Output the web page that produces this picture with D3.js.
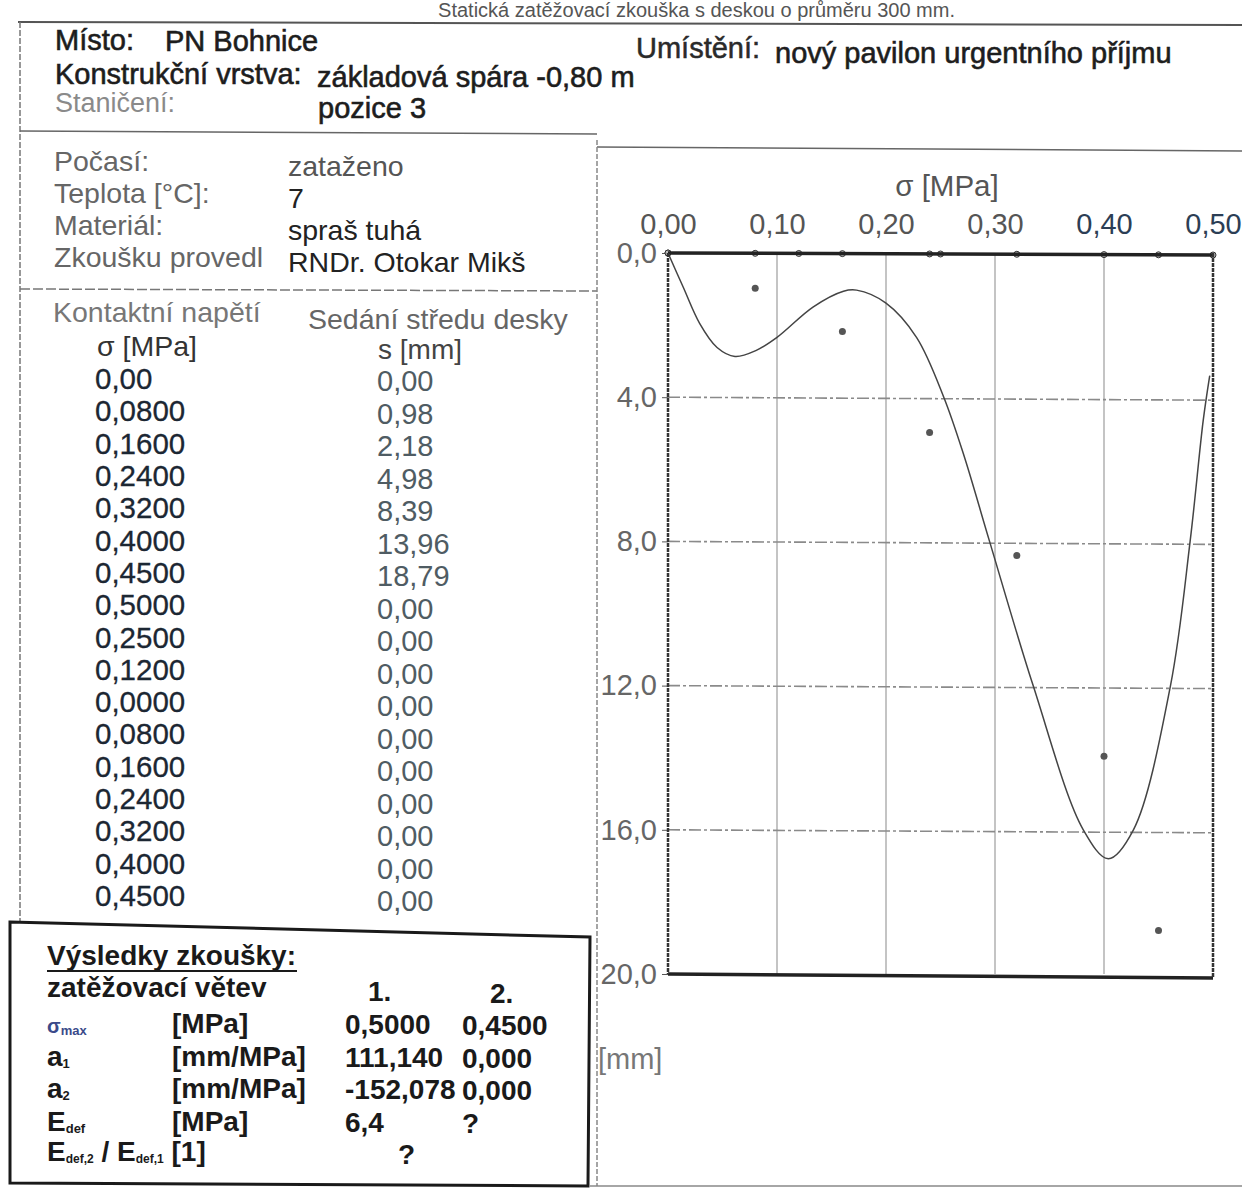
<!DOCTYPE html>
<html>
<head>
<meta charset="utf-8">
<script src="https://cdn.jsdelivr.net/npm/d3@7"></script>
<style>
  html, body { margin: 0; padding: 0; background: #fff; }
  svg { display: block; }
  text { font-family: "Liberation Sans", Arial, sans-serif; }
</style>
</head>
<body>
<svg id="page" width="1242" height="1188"></svg>
<script>
// ---------------- DATA ----------------
// Table: contact stress sigma [MPa] and plate-centre settlement s [mm]
const sigma  = [0.00, 0.08, 0.16, 0.24, 0.32, 0.40, 0.45, 0.50, 0.25, 0.12, 0.00, 0.08, 0.16, 0.24, 0.32, 0.40, 0.45];
const settle = [0.00, 0.98, 2.18, 4.98, 8.39, 13.96, 18.79, 0.00, 0.00, 0.00, 0.00, 0.00, 0.00, 0.00, 0.00, 0.00, 0.00];

// Fitted curve
const curveSigma = [0, 0.014, 0.029, 0.045, 0.0615, 0.081, 0.100, 0.133, 0.161, 0.173, 0.200, 0.228, 0.253, 0.271, 0.295, 0.335, 0.381, 0.404, 0.427, 0.461, 0.479, 0.491, 0.497];
const curveS     = [0, 0.95, 1.95, 2.62, 2.87, 2.70, 2.34, 1.50, 1.06, 1.03, 1.39, 2.34, 4.00, 5.57, 8.00, 12.00, 16.00, 16.80, 16.00, 12.00, 8.00, 4.65, 3.40];

// Axis ticks
const xTicks = [0, 0.1, 0.2, 0.3, 0.4, 0.5];
const yTicks = [0, 4, 8, 12, 16, 20];

// Header texts
const headerLabels = ["Místo:", "Konstrukční vrstva:", "Staničení:"];
const headerValues = ["PN Bohnice", "základová spára -0,80 m", "pozice 3"];
const placeLabel = "Umístění:";
const placeValue = "nový pavilon urgentního příjmu";
const docTitle = "Statická zatěžovací zkouška s deskou o průměru 300 mm.";

const condLabels = ["Počasí:", "Teplota [°C]:", "Materiál:", "Zkoušku provedl"];
const condValues = ["zataženo", "7", "spraš tuhá", "RNDr. Otokar Mikš"];

// Results
const resBranches = ["1.", "2."];
const resRows = [
  {sym: "σ", sub: "max", unit: "[MPa]", v1: "0,5000", v2: "0,4500"},
  {sym: "a", sub: "1", unit: "[mm/MPa]", v1: "111,140", v2: "0,000"},
  {sym: "a", sub: "2", unit: "[mm/MPa]", v1: "-152,078", v2: "0,000"},
  {sym: "E", sub: "def", unit: "[MPa]", v1: "6,4", v2: "?"}
];

// ---------------- DRAW ----------------
const svg = d3.select("#page");
const comma = s => s.replace(".", ",");

function txt(x, y, s, o = {}) {
  const t = svg.append("text")
    .attr("x", x).attr("y", y)
    .attr("font-size", o.size || 29)
    .attr("font-weight", o.weight || "normal")
    .attr("fill", o.fill || "#222")
    .attr("text-anchor", o.anchor || "start")
    .text(s);
  if (o.bold) t.attr("stroke", o.fill || "#222").attr("stroke-width", o.bold);
  return t;
}
function line(x1, y1, x2, y2, o = {}) {
  return svg.append("line")
    .attr("x1", x1).attr("y1", y1).attr("x2", x2).attr("y2", y2)
    .attr("stroke", o.stroke || "#555")
    .attr("stroke-width", o.w || 1.5)
    .attr("stroke-dasharray", o.dash || null);
}

// document title at the very top (mostly cut in the scan)
txt(955, 17, docTitle, {size: 20, fill: "#555", anchor: "end"});

// frame lines
line(18, 22, 1242, 25, {stroke: "#555", w: 2});
line(20, 22, 20, 922, {stroke: "#777", w: 1.5, dash: "6,2"});
line(20, 131, 597, 134, {stroke: "#666", w: 1.5});
line(597, 147, 1242, 151, {stroke: "#666", w: 1.5});
line(20, 289, 597, 291, {stroke: "#777", w: 1.5, dash: "10,3"});
line(597, 140, 597, 1186, {stroke: "#888", w: 1.5, dash: "5,2"});
line(590, 1186, 1242, 1186, {stroke: "#888", w: 1.5});

// header
txt(55, 50, headerLabels[0], {fill: "#1d1d1d", bold: 0.6});
txt(165, 51, headerValues[0], {fill: "#1d1d1d", bold: 0.6});
txt(55, 84, headerLabels[1], {fill: "#1d1d1d", bold: 0.6});
txt(317, 87, headerValues[1], {fill: "#1d1d1d", bold: 0.6});
txt(55, 112, headerLabels[2], {fill: "#8a8a8a", size: 27});
txt(318, 118, headerValues[2], {fill: "#1d1d1d", bold: 0.6});
txt(636, 58, placeLabel, {fill: "#2a2a2a", bold: 0.5});
txt(775, 63, placeValue, {fill: "#1d1d1d", bold: 0.6});

// conditions
condLabels.forEach((l, i) => {
  txt(54, 171 + i * 32, l, {fill: "#666", size: 28.5});
  txt(288, 176 + i * 32, condValues[i], {fill: i === 0 ? "#555" : "#222", size: 28.5});
});

// data table
txt(53, 322, "Kontaktní napětí", {fill: "#777", size: 28.5});
txt(308, 329, "Sedání středu desky", {fill: "#666", size: 28.5});
txt(97, 356, "σ [MPa]", {fill: "#333", size: 28.5});
txt(378, 359, "s [mm]", {fill: "#444", size: 28});
const rowY = d3.scaleLinear().domain([0, sigma.length - 1]).range([389, 906]);
sigma.forEach((v, i) => {
  const label = i === 0 ? comma(v.toFixed(2)) : comma(v.toFixed(4));
  txt(95, rowY(i), label, {fill: "#1c2733", size: 29.5, bold: 0.3});
  txt(377, rowY(i) + 2 + i * 0.2, comma(settle[i].toFixed(2)), {fill: "#4f5c63", size: 29});
});

// results box
svg.append("path")
  .attr("d", "M10,922 L590,937 L588,1186 L10,1183 Z")
  .attr("fill", "none").attr("stroke", "#1a1a1a").attr("stroke-width", 3);
const RS = 28;
txt(47, 965, "Výsledky zkoušky:", {weight: "bold", size: RS, fill: "#1a1a1a"});
line(47, 971, 297, 971, {stroke: "#1a1a1a", w: 2});
txt(47, 997, "zatěžovací větev", {weight: "bold", size: RS, fill: "#1a1a1a"});
txt(368, 1001, resBranches[0], {weight: "bold", size: RS, fill: "#1a1a1a"});
txt(490, 1003, resBranches[1], {weight: "bold", size: RS, fill: "#1a1a1a"});
resRows.forEach((r, i) => {
  const y = 1033 + i * 32.5;
  const t = svg.append("text").attr("x", 47).attr("y", y).attr("font-weight", "bold").attr("fill", r.sym === "σ" ? "#3a4a8a" : "#1a1a1a");
  t.append("tspan").attr("font-size", r.sym === "σ" ? 20 : RS).text(r.sym);
  t.append("tspan").attr("font-size", 13).attr("dy", 2).text(r.sub);
  txt(172, y, r.unit, {weight: "bold", size: RS, fill: "#1a1a1a"});
  txt(345, y + 1, r.v1, {weight: "bold", size: RS, fill: "#1a1a1a"});
  txt(462, y + 2, r.v2, {weight: "bold", size: RS, fill: "#1a1a1a"});
});
{
  const y = 1161;
  const t = svg.append("text").attr("x", 47).attr("y", y).attr("font-weight", "bold").attr("fill", "#1a1a1a");
  t.append("tspan").attr("font-size", RS).text("E");
  t.append("tspan").attr("font-size", 12).attr("dy", 2).text("def,2");
  t.append("tspan").attr("font-size", RS).attr("dy", -2).text(" / E");
  t.append("tspan").attr("font-size", 12).attr("dy", 2).text("def,1");
  t.append("tspan").attr("font-size", RS).attr("dy", -2).text(" [1]");
  txt(398, y + 3, "?", {weight: "bold", size: RS, fill: "#1a1a1a"});
}

// ---------------- CHART ----------------
const x = d3.scaleLinear().domain([0, 0.5]).range([668, 1213]);
const y = d3.scaleLinear().domain([0, 20]).range([253, 974]);
const g = svg.append("g");

// grid
g.selectAll(".vg").data(xTicks.slice(1, -1)).enter().append("line")
  .attr("x1", d => x(d)).attr("x2", d => x(d))
  .attr("y1", y(0)).attr("y2", y(20))
  .attr("stroke", "#c4c4c4").attr("stroke-width", 2);
g.selectAll(".hg").data(yTicks.slice(1, -1)).enter().append("line")
  .attr("x1", x(0)).attr("x2", x(0.5))
  .attr("y1", d => y(d)).attr("y2", d => y(d) + 3)
  .attr("stroke", "#8a8a8a").attr("stroke-width", 1.6).attr("stroke-dasharray", "12,3,3,3");

// axes (labels through d3 axes)
const axTop = d3.axisTop(x).tickValues(xTicks).tickSize(0).tickPadding(19)
  .tickFormat(d => comma(d3.format(".2f")(d)));
const axLeft = d3.axisLeft(y).tickValues(yTicks).tickSize(6).tickPadding(5)
  .tickFormat(d => comma(d3.format(".1f")(d)));
const gTop = g.append("g").attr("transform", `translate(0,${y(0)})`).call(axTop);
const gLeft = g.append("g").attr("transform", `translate(${x(0)},0)`).call(axLeft);
[gTop, gLeft].forEach(a => {
  a.select(".domain").remove();
  a.selectAll("text").attr("font-size", 29).attr("fill", "#555")
    .attr("font-family", "'Liberation Sans', Arial, sans-serif");
  a.selectAll("line").attr("stroke", "#555");
});
gTop.selectAll("text").attr("fill", (d, i) => i >= 4 ? "#2c3e55" : "#555");
gLeft.selectAll("text").attr("fill", "#666");

// frame
line(x(0), y(0), x(0.5), y(0) + 2, {stroke: "#222", w: 3.5});
line(x(0), y(20), x(0.5), y(20) + 4, {stroke: "#222", w: 3.5});
line(x(0), y(0), x(0), y(20), {stroke: "#333", w: 2.5, dash: "4,1"});
line(x(0.5), y(0), x(0.5), y(20) + 4, {stroke: "#333", w: 2.5, dash: "4,1"});

// axis titles
txt(947, 196, "σ [MPa]", {anchor: "middle", fill: "#555", size: 29.5});
txt(598, 1069, "[mm]", {fill: "#777", size: 29});

// fitted curve
const pts = curveSigma.map((s, i) => [s, curveS[i]]);
g.append("path")
  .datum(pts)
  .attr("d", d3.line().x(d => x(d[0])).y(d => y(d[1])).curve(d3.curveCatmullRom.alpha(0.5)))
  .attr("fill", "none").attr("stroke", "#444").attr("stroke-width", 1.5);

// measured points
const meas = sigma.map((s, i) => ({s, v: settle[i]}));
g.selectAll(".pt").data(meas.filter(d => d.v > 0)).enter().append("circle")
  .attr("cx", d => x(d.s)).attr("cy", d => y(d.v)).attr("r", 3.5)
  .attr("fill", "#555");
g.selectAll(".pz").data(meas.filter(d => d.v === 0)).enter().append("circle")
  .attr("cx", d => x(d.s)).attr("cy", d => y(d.v) + d.s * 4).attr("r", 3)
  .attr("fill", "#bbb").attr("stroke", "#333").attr("stroke-width", 1);
</script>
</body>
</html>
